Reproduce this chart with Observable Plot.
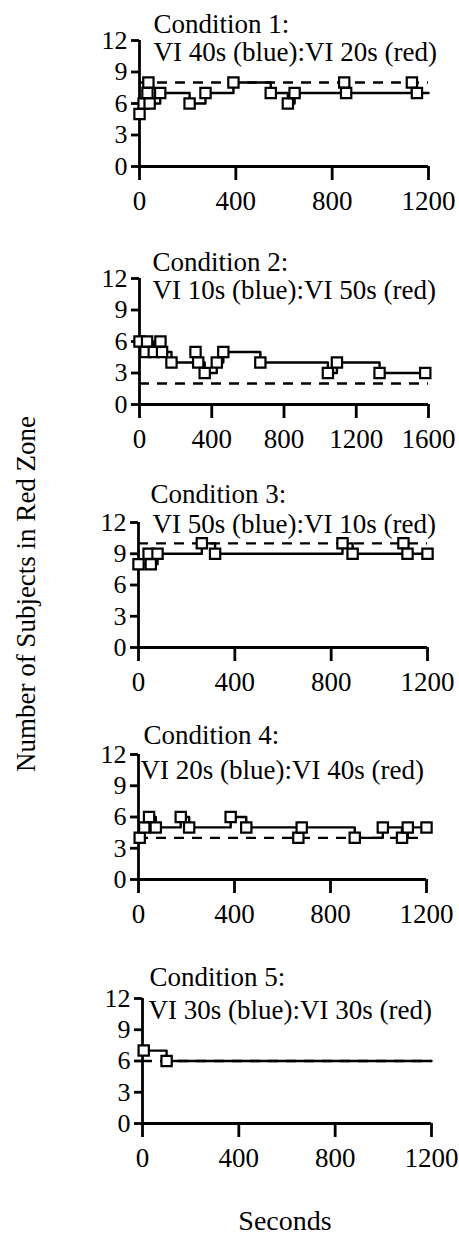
<!DOCTYPE html>
<html><head><meta charset="utf-8">
<script src="https://cdn.jsdelivr.net/npm/d3@7"></script>
<script src="https://cdn.jsdelivr.net/npm/@observablehq/plot@0.6"></script>
<style>
body{margin:0;background:#fff;}
#chart{position:relative;width:459px;height:1237px;font-family:'Liberation Serif',serif;color:#000;overflow:hidden;}
.panel{position:absolute;left:0;}
.lab{position:absolute;font-family:'Liberation Serif',serif;white-space:nowrap;line-height:1;color:#000;}
#ylab{left:26px;top:594px;transform:translate(-50%,-50%) rotate(-90deg);font-size:27px;}
#xlab{left:285px;top:1207px;transform:translateX(-50%);font-size:28px;}
</style></head><body><div id="chart"></div>
<script>
// ---- data ----
const conditionTitles = ["Condition 1:", "Condition 2:", "Condition 3:", "Condition 4:", "Condition 5:"];
const scheduleTitles = ["VI 40s (blue):VI 20s (red)", "VI 10s (blue):VI 50s (red)", "VI 50s (blue):VI 10s (red)", "VI 20s (blue):VI 40s (red)", "VI 30s (blue):VI 30s (red)"];
const predicted = [8, 2, 10, 4, 6];
const xMax = [1200, 1600, 1200, 1200, 1200];
const lineEnd = [1200, 1582, 1200, 1200, 1200];
const xTicks1200 = [0, 400, 800, 1200];
const xTicks1600 = [0, 400, 800, 1200, 1600];
const yTicks = [0, 3, 6, 9, 12];

const c1Seconds = [0, 17, 33, 37, 42, 86, 208, 274, 390, 545, 616, 644, 850, 858, 1131, 1152];
const c1Subjects = [5, 6, 7, 8, 6, 7, 6, 7, 8, 7, 6, 7, 8, 7, 8, 7];
const c2Seconds = [0, 33, 42, 79, 116, 125, 177, 310, 325, 361, 428, 464, 669, 1043, 1093, 1329, 1582];
const c2Subjects = [6, 5, 6, 5, 6, 5, 4, 5, 4, 3, 4, 5, 4, 3, 4, 3, 3];
const c3Seconds = [0, 42, 51, 79, 263, 318, 847, 889, 1100, 1117, 1200];
const c3Subjects = [8, 9, 8, 9, 10, 9, 10, 9, 10, 9, 9];
const c4Seconds = [5, 24, 44, 72, 176, 211, 384, 449, 666, 680, 901, 1018, 1098, 1122, 1200];
const c4Subjects = [4, 5, 6, 5, 6, 5, 6, 5, 4, 5, 4, 5, 4, 5, 5];
const c5Seconds = [5, 100];
const c5Subjects = [7, 6];

const seconds = [c1Seconds, c2Seconds, c3Seconds, c4Seconds, c5Seconds];
const subjects = [c1Subjects, c2Subjects, c3Subjects, c4Subjects, c5Subjects];

// ---- layout (pixel positions of each panel's plot area) ----
const layout = [
  {top: 40, bottom: 166, left: 139, right: 428, cdx: 14, cdy: -8, sdx: 14, sdy: 20},
  {top: 278, bottom: 404, left: 139, right: 428, cdx: 13, cdy: -8, sdx: 13, sdy: 20},
  {top: 522, bottom: 647, left: 138, right: 427, cdx: 12, cdy: -20, sdx: 14, sdy: 10},
  {top: 754, bottom: 879, left: 138, right: 426, cdx: 5, cdy: -11, sdx: 2, sdy: 24},
  {top: 998, bottom: 1123, left: 142, right: 431, cdx: 7, cdy: -13, sdx: 6, sdy: 20}
];
const W = 459, MT = 50, MB = 55;
const font = "'Liberation Serif', serif";
const chart = document.getElementById("chart");

layout.forEach((L, i) => {
  const pts = seconds[i].map((t, j) => ({t, n: subjects[i][j]}));
  const linePts = [...pts, {t: lineEnd[i], n: subjects[i][subjects[i].length - 1]}];
  const p = Plot.plot({
    width: W,
    height: (L.bottom - L.top) + MT + MB,
    marginTop: MT, marginBottom: MB,
    marginLeft: L.left, marginRight: W - L.right,
    style: {fontFamily: font, fontSize: "27px", color: "#000", background: "transparent", overflow: "visible"},
    x: {domain: [0, xMax[i]], label: null},
    y: {domain: [0, 12], label: null},
    marks: [
      Plot.ruleY([predicted[i]], {x1: 0, x2: xMax[i], stroke: "#000", strokeWidth: 2.4, strokeDasharray: "10,8"}),
      Plot.line(linePts, {x: "t", y: "n", curve: "step-after", stroke: "#000", strokeWidth: 2.4}),
      Plot.ruleX([0], {y1: 0, y2: 12, stroke: "#000", strokeWidth: 2.8}),
      Plot.ruleY([0], {x1: 0, x2: xMax[i], stroke: "#000", strokeWidth: 2.8}),
      Plot.axisX({ticks: xMax[i] === 1600 ? xTicks1600 : xTicks1200, tickSize: 14, tickPadding: 10, strokeWidth: 2.8, fontSize: 27, tickFormat: d => String(d)}),
      Plot.axisY({ticks: yTicks, tickSize: 8, tickPadding: 4, strokeWidth: 2.8, fontSize: 26, tickFormat: d => String(d)}),
      Plot.dot(pts, {x: "t", y: "n", symbol: "square", r: 5.8, stroke: "#000", fill: "#fff", strokeWidth: 2.2}),
      Plot.text([conditionTitles[i]], {frameAnchor: "top-left", dx: L.cdx, dy: L.cdy, textAnchor: "start", lineAnchor: "bottom", fontSize: 27, fill: "#000"}),
      Plot.text([scheduleTitles[i]], {frameAnchor: "top-left", dx: L.sdx, dy: L.sdy, textAnchor: "start", lineAnchor: "bottom", fontSize: 27, fill: "#000"})
    ]
  });
  p.classList.add("panel");
  p.style.top = (L.top - MT) + "px";
  chart.appendChild(p);
});

const yl = document.createElement("div");
yl.id = "ylab"; yl.className = "lab"; yl.textContent = "Number of Subjects in Red Zone";
chart.appendChild(yl);
const xl = document.createElement("div");
xl.id = "xlab"; xl.className = "lab"; xl.textContent = "Seconds";
chart.appendChild(xl);
</script>
</body></html>
